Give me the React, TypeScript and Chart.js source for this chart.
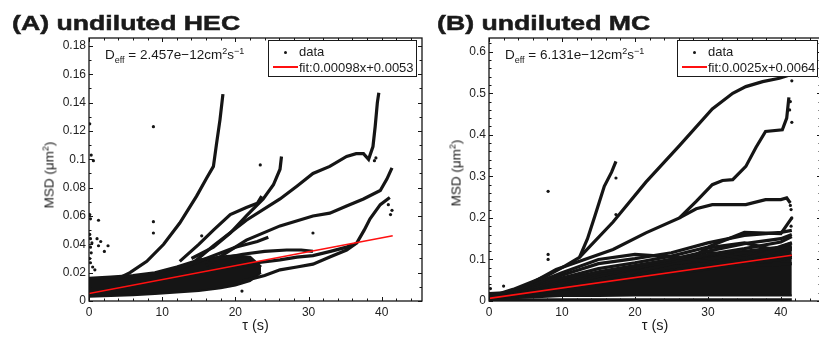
import React, { useEffect, useRef } from "react";
import { Chart, registerables } from "chart.js";

Chart.register(...registerables);

type Pt = [number, number];

// ---------------- Panel A : undiluted HEC ----------------
const hecXTicks = [0, 10, 20, 30, 40];
const hecYTicks = [0, 0.02, 0.04, 0.06, 0.08, 0.1, 0.12, 0.14, 0.16, 0.18];
const hecFit: Pt[] = [[0, 0.0053], [41.5, 0.046]];
const hecBandLower: Pt[] = [[0, 0.003], [3, 0.0035], [6, 0.004], [9, 0.005], [12, 0.006], [15, 0.007], [18, 0.009], [20, 0.011], [22, 0.014], [23.5, 0.02]];
const hecBandUpper: Pt[] = [[0, 0.016], [3, 0.017], [6, 0.018], [9, 0.02], [12, 0.024], [15, 0.029], [18, 0.031], [20, 0.032], [22, 0.031], [23.5, 0.024]];
const hecTrack1: Pt[] = [[4, 0.016], [5.6, 0.02], [7.9, 0.028], [10.2, 0.04], [12.4, 0.055], [14.7, 0.074], [16.1, 0.087], [17, 0.095], [17.4, 0.11], [17.9, 0.128], [18.3, 0.146]];
const hecTrack2: Pt[] = [[12.4, 0.028], [15, 0.04], [17, 0.05], [19.3, 0.061], [21.5, 0.066], [23, 0.069], [23.6, 0.074]];
const hecTrack3: Pt[] = [[14, 0.03], [17, 0.038], [19.3, 0.048], [21.5, 0.06], [23.8, 0.072], [25.2, 0.082], [26.1, 0.093], [26.3, 0.102]];
const hecTrack4: Pt[] = [[14, 0.026], [17, 0.039], [21.5, 0.057], [26.1, 0.072], [28.4, 0.081], [30.6, 0.09], [32.9, 0.095], [35.2, 0.102], [36.5, 0.104], [37.5, 0.104], [38.2, 0.1], [38.8, 0.109], [39.1, 0.123], [39.4, 0.14], [39.6, 0.147]];
const hecTrack5: Pt[] = [[16, 0.025], [21.5, 0.043], [26.1, 0.053], [30.6, 0.06], [32.9, 0.062], [35.2, 0.067], [37.5, 0.072], [39.8, 0.078], [40.7, 0.086], [41.4, 0.094]];
const hecTrack6: Pt[] = [[21, 0.014], [24, 0.018], [26.1, 0.022], [28.4, 0.024], [30.6, 0.026], [32.9, 0.031], [35.2, 0.036], [36.6, 0.041], [37.6, 0.05], [38.4, 0.058], [39.8, 0.068], [41.1, 0.073]];
const hecTrack7: Pt[] = [[20, 0.024], [23, 0.027], [26.1, 0.029], [28.4, 0.031], [30.6, 0.032], [33, 0.035], [35.2, 0.038], [36, 0.04]];
const hecTrack8: Pt[] = [[18, 0.03], [21, 0.033], [24, 0.035], [27, 0.036], [29, 0.036], [30.6, 0.035]];
const hecTrack9: Pt[] = [[12, 0.022], [16, 0.03], [20, 0.038], [23, 0.042], [24.5, 0.045]];
const hecOutliers: Pt[] = [[0.1, 0.125], [0.3, 0.103], [0.6, 0.099], [0.1, 0.061], [0.2, 0.058], [1.3, 0.057], [0.1, 0.047], [0.2, 0.044], [0.4, 0.041], [0.2, 0.038], [0.3, 0.034], [1.1, 0.044], [1.6, 0.042], [1.3, 0.039], [2.1, 0.035], [2.6, 0.039], [0.1, 0.03], [0.2, 0.027], [0.5, 0.024], [0.8, 0.022], [8.8, 0.123], [8.8, 0.056], [8.8, 0.048], [23.4, 0.096], [20.9, 0.007], [15.4, 0.046], [30.6, 0.048], [41.2, 0.061], [41.4, 0.064], [40.9, 0.068], [39.2, 0.101], [39.0, 0.099]];

// ---------------- Panel B : undiluted MC ----------------
const mcXTicks = [0, 10, 20, 30, 40];
const mcYTicks = [0, 0.1, 0.2, 0.3, 0.4, 0.5, 0.6];
const mcFit: Pt[] = [[0, 0.0064], [41.5, 0.11]];
const mcBandLower: Pt[] = [[0, 0.004], [2, 0.006], [5, 0.008], [8, 0.01], [10, 0.012], [13, 0.012], [15, 0.012], [20, 0.013], [25, 0.013], [30, 0.013], [35, 0.013], [40, 0.013], [41.5, 0.013]];
const mcBandUpper: Pt[] = [[0, 0.018], [2, 0.02], [5, 0.03], [8, 0.045], [10, 0.055], [13, 0.062], [15, 0.068], [20, 0.075], [25, 0.09], [30, 0.11], [35, 0.12], [40, 0.13], [41.5, 0.14]];
const mcFloor: Pt[] = [[0, 0.002], [10, 0.003], [20, 0.003], [30, 0.003], [41.5, 0.003]];
const mcTrack1: Pt[] = [[0, 0.01], [3.3, 0.028], [7.9, 0.06], [10.5, 0.085], [12.4, 0.105], [13.5, 0.15], [14.5, 0.204], [15.8, 0.276], [16.8, 0.31], [17.4, 0.336]];
const mcTrack2: Pt[] = [[12.4, 0.105], [17, 0.19], [21.5, 0.286], [26.1, 0.374], [30.6, 0.462], [33.4, 0.5], [35.2, 0.516], [37.5, 0.528], [39.8, 0.536], [41.2, 0.544]];
const mcTrack3: Pt[] = [[0, 0.006], [5, 0.035], [9.2, 0.076], [17, 0.124], [21.5, 0.164], [26.1, 0.2], [28.4, 0.24], [30.6, 0.28], [32, 0.29], [33.4, 0.292], [35.2, 0.324], [36.6, 0.37], [37.9, 0.408], [40.2, 0.412], [40.8, 0.44], [41.1, 0.49]];
const mcTrack4: Pt[] = [[26.1, 0.2], [28.4, 0.222], [30.6, 0.232], [35.2, 0.232], [37.9, 0.244], [40, 0.244], [40.8, 0.248], [41.3, 0.236]];
const mcLowX = [0, 5, 10, 15, 20, 25, 30, 35, 40, 41.5];
const mcLow1 = [0.01, 0.033, 0.068, 0.1, 0.112, 0.106, 0.095, 0.085, 0.088, 0.09];
const mcLow2 = [0.01, 0.03, 0.062, 0.09, 0.102, 0.116, 0.14, 0.158, 0.165, 0.17];
const mcLow3 = [0.008, 0.028, 0.055, 0.078, 0.092, 0.108, 0.13, 0.165, 0.162, 0.2];
const mcLow4 = [0.008, 0.026, 0.05, 0.07, 0.085, 0.1, 0.12, 0.138, 0.15, 0.16];
const mcLow5 = [0.007, 0.024, 0.045, 0.065, 0.08, 0.095, 0.112, 0.126, 0.142, 0.155];
const mcLow6 = [0.006, 0.022, 0.04, 0.06, 0.078, 0.1, 0.118, 0.102, 0.125, 0.13];
const mcLow7 = [0.006, 0.02, 0.036, 0.052, 0.07, 0.09, 0.1, 0.116, 0.106, 0.11];
const mcLow8 = [0.005, 0.018, 0.032, 0.046, 0.062, 0.082, 0.09, 0.096, 0.132, 0.14];
const mcLow9 = [0.005, 0.016, 0.03, 0.05, 0.072, 0.076, 0.128, 0.14, 0.12, 0.125];
const mcLow10 = [0.005, 0.015, 0.028, 0.04, 0.055, 0.065, 0.078, 0.09, 0.1, 0.105];
const mcOutliers: Pt[] = [[8.1, 0.264], [8.1, 0.112], [8.1, 0.1], [17.4, 0.296], [17.4, 0.208], [2.0, 0.036], [0.2, 0.03], [41.4, 0.18], [41.5, 0.2], [41.4, 0.22], [41.3, 0.48], [41.2, 0.46], [41.5, 0.43], [41.5, 0.53], [41.3, 0.23]];

const FONT = "'Liberation Sans', Arial, Helvetica, sans-serif";
const INK = "#151515";
const RED = "#ff1010";

const zipLow = (ys: number[]): Pt[] => mcLowX.map((x, i) => [x, ys[i]] as Pt);
const toXY = (pts: Pt[]) => pts.map(([x, y]) => ({ x, y }));

interface PanelSpec {
  fit: Pt[];
  outliers: Pt[];
  tracks: Pt[][];
  bandLower: Pt[];
  bandUpper: Pt[];
  xTicks: number[];
  yTicks: number[];
  xMax: number;
  yMax: number;
  xMinor: number;
  yMinor: number;
  yAxisWidth: number;
  padRight: number;
}

const framePlugin = {
  id: "frame",
  afterDatasetsDraw(chart: any, _args: any, o: any) {
    const { ctx, chartArea: ca, scales } = chart;
    const xs = scales.x;
    const ys = scales.y;
    ctx.save();
    ctx.strokeStyle = INK;
    ctx.lineWidth = 1;
    const majorX = new Set(o.xTicks.map((v: number) => v.toFixed(4)));
    const majorY = new Set(o.yTicks.map((v: number) => v.toFixed(4)));
    for (let i = 0; i * o.xMinor <= xs.max + 1e-9; i++) {
      const v = i * o.xMinor;
      const len = majorX.has(v.toFixed(4)) ? 4 : 2.5;
      const p = Math.round(xs.getPixelForValue(v)) + 0.5;
      ctx.beginPath();
      ctx.moveTo(p, ca.bottom);
      ctx.lineTo(p, ca.bottom - len);
      ctx.moveTo(p, ca.top);
      ctx.lineTo(p, ca.top + len);
      ctx.stroke();
    }
    for (let i = 0; i * o.yMinor <= ys.max + 1e-9; i++) {
      const v = i * o.yMinor;
      const len = majorY.has(v.toFixed(4)) ? 4 : 2.5;
      const p = Math.round(ys.getPixelForValue(v)) + 0.5;
      ctx.beginPath();
      ctx.moveTo(ca.left, p);
      ctx.lineTo(ca.left + len, p);
      ctx.moveTo(ca.right, p);
      ctx.lineTo(ca.right - len, p);
      ctx.stroke();
    }
    ctx.lineWidth = 1.3;
    ctx.strokeRect(ca.left, ca.top, ca.right - ca.left, ca.bottom - ca.top);
    ctx.restore();
  },
};

function buildConfig(spec: PanelSpec): any {
  const ds: any[] = [];
  ds.push({ data: toXY(spec.fit), borderColor: RED, borderWidth: 1.6, pointRadius: 0, fill: false, order: 0 });
  ds.push({ data: toXY(spec.outliers), showLine: false, pointRadius: 1.6, pointBackgroundColor: INK, pointBorderWidth: 0, order: 1 });
  spec.tracks.forEach((t) =>
    ds.push({ data: toXY(t), borderColor: INK, borderWidth: 3.2, pointRadius: 0, tension: 0, fill: false, order: 2 })
  );
  const lowerIndex = ds.length;
  ds.push({ data: toXY(spec.bandLower), borderColor: INK, borderWidth: 2, pointRadius: 0, fill: false, order: 3 });
  ds.push({ data: toXY(spec.bandUpper), borderColor: INK, borderWidth: 3, pointRadius: 0, fill: lowerIndex, backgroundColor: INK, order: 3 });

  const tickFont = { family: FONT, size: 12 };
  const fmt = (v: any) => String(Number(Number(v).toFixed(3)));
  return {
    type: "line",
    data: { datasets: ds },
    plugins: [framePlugin],
    options: {
      responsive: false,
      animation: false,
      events: [],
      layout: { padding: { left: 0, right: spec.padRight, top: 38, bottom: 0 } },
      plugins: {
        legend: { display: false },
        tooltip: { enabled: false },
        frame: { xTicks: spec.xTicks, yTicks: spec.yTicks, xMinor: spec.xMinor, yMinor: spec.yMinor },
      },
      scales: {
        x: {
          type: "linear",
          min: 0,
          max: spec.xMax,
          afterBuildTicks: (s: any) => {
            s.ticks = spec.xTicks.map((v) => ({ value: v }));
          },
          afterFit: (s: any) => {
            s.height = 38;
          },
          grid: { display: false, drawTicks: false },
          border: { display: false },
          ticks: { padding: 4, font: tickFont, color: "#222", maxRotation: 0, autoSkip: false, callback: fmt },
        },
        y: {
          type: "linear",
          min: 0,
          max: spec.yMax,
          afterBuildTicks: (s: any) => {
            s.ticks = spec.yTicks.map((v) => ({ value: v }));
          },
          afterFit: (s: any) => {
            s.width = spec.yAxisWidth;
          },
          grid: { display: false, drawTicks: false },
          border: { display: false },
          ticks: { padding: 3, font: tickFont, color: "#222", autoSkip: false, callback: fmt },
        },
      },
    },
  };
}

const hecSpec: PanelSpec = {
  fit: hecFit,
  outliers: hecOutliers,
  tracks: [hecTrack1, hecTrack2, hecTrack3, hecTrack4, hecTrack5, hecTrack6, hecTrack7, hecTrack8, hecTrack9],
  bandLower: hecBandLower,
  bandUpper: hecBandUpper,
  xTicks: hecXTicks,
  yTicks: hecYTicks,
  xMax: 45.5,
  yMax: 0.1856,
  xMinor: 2,
  yMinor: 0.01,
  yAxisWidth: 89,
  padRight: 8,
};

const mcSpec: PanelSpec = {
  fit: mcFit,
  outliers: mcOutliers,
  tracks: [
    mcTrack1, mcTrack2, mcTrack3, mcTrack4, mcFloor,
    zipLow(mcLow1), zipLow(mcLow2), zipLow(mcLow3), zipLow(mcLow4), zipLow(mcLow5),
    zipLow(mcLow6), zipLow(mcLow7), zipLow(mcLow8), zipLow(mcLow9), zipLow(mcLow10),
  ],
  bandLower: mcBandLower,
  bandUpper: mcBandUpper,
  xTicks: mcXTicks,
  yTicks: mcYTicks,
  xMax: 45.5,
  yMax: 0.633,
  xMinor: 2,
  yMinor: 0.02,
  yAxisWidth: 59,
  padRight: 9,
};

function Panel({ spec, left, width }: { spec: PanelSpec; left: number; width: number }) {
  const ref = useRef<HTMLCanvasElement | null>(null);
  useEffect(() => {
    if (!ref.current) return;
    const chart = new Chart(ref.current, buildConfig(spec));
    return () => chart.destroy();
  }, [spec]);
  return <canvas ref={ref} width={width} height={339} style={{ position: "absolute", left, top: 0 }} />;
}

const supStyle = (dy: number, size = 9): React.CSSProperties => ({ fontSize: size, position: "relative", top: dy });

function Deff({ left, value }: { left: number; value: string }) {
  return (
    <div style={{ position: "absolute", left, top: 48, fontSize: 13.5, lineHeight: "13.5px", whiteSpace: "nowrap", color: "#1a1a1a" }}>
      D<span style={supStyle(4)}>eff</span> = {value}cm<span style={supStyle(-5)}>2</span>s<span style={supStyle(-5)}>−1</span>
    </div>
  );
}

function LegendBox({ left, width, fitText }: { left: number; width: number; fitText: string }) {
  return (
    <div style={{ position: "absolute", left, top: 40, width, height: 37, border: "1px solid #1a1a1a", boxSizing: "border-box", background: "#fff" }}>
      <div style={{ position: "absolute", left: 15, top: 9.5, width: 3, height: 3, borderRadius: 2, background: INK }} />
      <div style={{ position: "absolute", left: 4, top: 25, width: 25, height: 2, background: RED }} />
      <div style={{ position: "absolute", left: 30, top: 4, fontSize: 13, lineHeight: "13px", whiteSpace: "nowrap", color: "#1a1a1a" }}>data</div>
      <div style={{ position: "absolute", left: 30, top: 19.5, fontSize: 13, lineHeight: "13px", whiteSpace: "nowrap", color: "#1a1a1a" }}>{fitText}</div>
    </div>
  );
}

function YTitle({ x, y }: { x: number; y: number }) {
  return (
    <div style={{ position: "absolute", left: x, top: y, transform: "translate(-50%, -50%) rotate(-90deg)", fontSize: 13.5, lineHeight: "14px", whiteSpace: "nowrap", color: "#1a1a1a" }}>
      MSD (μm<span style={supStyle(-5, 9)}>2</span>)
    </div>
  );
}

function XTitle({ x }: { x: number }) {
  return (
    <div style={{ position: "absolute", left: x, top: 325, transform: "translate(-50%, -50%)", fontSize: 14.5, lineHeight: "15px", whiteSpace: "nowrap", color: "#1a1a1a" }}>
      τ (s)
    </div>
  );
}

function Title({ left, text }: { left: number; text: string }) {
  return (
    <div style={{ position: "absolute", left, top: 11.5, fontSize: 21, fontWeight: "bold", lineHeight: "21px", whiteSpace: "nowrap", transform: "scaleX(1.27)", transformOrigin: "left top", color: "#1a1a1a", WebkitTextStroke: "0.5px #1a1a1a" }}>
      {text}
    </div>
  );
}

export default function App() {
  return (
    <div style={{ position: "absolute", left: 0, top: 0, width: 819, height: 339, overflow: "hidden", background: "#fff", fontFamily: FONT }}>
      <Panel spec={hecSpec} left={0} width={430} />
      <Panel spec={mcSpec} left={430} width={400} />
      <Title left={12} text="(A) undiluted HEC" />
      <Title left={437} text="(B) undiluted MC" />
      <Deff left={105} value="2.457e−12" />
      <Deff left={505} value="6.131e−12" />
      <LegendBox left={268} width={149} fitText="fit:0.00098x+0.0053" />
      <LegendBox left={677} width={141} fitText="fit:0.0025x+0.0064" />
      <YTitle x={50} y={175} />
      <YTitle x={457} y={173} />
      <XTitle x={255.5} />
      <XTitle x={655} />
    </div>
  );
}
